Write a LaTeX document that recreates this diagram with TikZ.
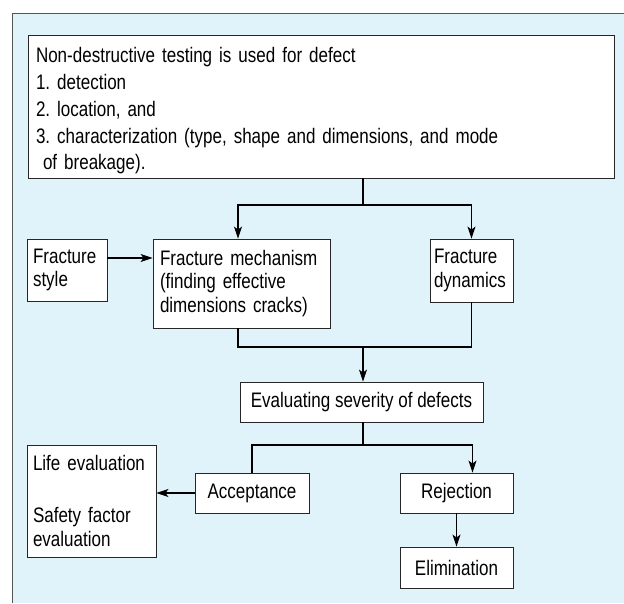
\documentclass[tikz,border=0pt]{standalone}
\usepackage{fontspec}
\setmainfont{Liberation Sans}[FakeStretch=0.81]
\usetikzlibrary{arrows.meta}
\definecolor{panelblue}{HTML}{E0F2FA}
\definecolor{framegray}{HTML}{555555}
\frenchspacing

\begin{document}
\begin{tikzpicture}[x=1pt, y=-1pt, font=\fontsize{21}{23.5}\selectfont]
\tikzstyle{vertexr}=[rectangle, draw=black!85, fill=white, line width=0.9pt, inner ysep=0pt, align=left]
\tikzstyle{vertexm}=[rectangle, draw=black!85, fill=white, line width=0.9pt, inner sep=0pt, align=center]
\tikzstyle{linestyle}=[line width=1.1pt]
\tikzstyle{drawstyle}=[line width=1.1pt, -{Stealth[length=12pt, width=8pt, inset=3pt]}]

\useasboundingbox (0,0) rectangle (624,603);
\fill[panelblue] (12,13) rectangle (624,603);
\draw[framegray, line width=1pt] (12,603) -- (12,13) -- (624,13);

\node[vertexr, minimum width=586, minimum height=143, inner xsep=8pt, text width=570pt,
  font=\fontsize{21}{26.7}\selectfont] (B0x0) at (321,106.5)
  {\rule{0pt}{24pt}Non-destructive testing is used for defect\\
   1. detection\\
   2. location, and\\
   3. characterization (type, shape and dimensions, and mode\\
   \hspace*{7pt}of breakage).};
\node[vertexr, minimum width=80, minimum height=62, inner xsep=6pt, text width=68pt] (B0x1) at (67,270) {Fracture\\style};
\node[vertexr, minimum width=177, minimum height=89, inner xsep=7pt, text width=163pt] (B1x1) at (241.5,283.5) {Fracture mechanism\\(finding effective\\dimensions cracks)};
\node[vertexr, minimum width=83, minimum height=63, inner xsep=4pt, text width=75pt] (B2x1) at (471.5,270.5) {Fracture\\dynamics};
\node[vertexm, minimum width=243, minimum height=40] (B1x2) at (361.5,402) {Evaluating severity of defects};
\node[vertexr, minimum width=129, minimum height=112, inner xsep=6pt, text width=117pt] (B0x3) at (91.5,501) {Life evaluation\\[28.5pt]Safety factor\\evaluation};
\node[vertexm, minimum width=114, minimum height=40] (B1x3) at (252,493) {Acceptance};
\node[vertexm, minimum width=113, minimum height=40] (B2x3) at (456.5,493) {Rejection};
\node[vertexm, minimum width=113, minimum height=41] (B2x4) at (456.5,567.5) {Elimination};

\coordinate (J0) at (363,205);
\coordinate (J1) at (363,347);
\coordinate (J2) at (363,445);

\draw[linestyle] (B0x0.south -| J0) -- (J0);
\draw[drawstyle] (J0) -| ([xshift=-3.5pt]B1x1.north);
\draw[drawstyle] (J0) -| (B2x1.north);
\draw[drawstyle] ([yshift=12pt]B0x1.east) -- ([yshift=12pt]B0x1.east -| B1x1.west);
\draw[linestyle] ([xshift=-3.5pt]B1x1.south) |- (B2x1.south |- J1) -- (B2x1.south);
\draw[drawstyle] (J1) -- (J1 |- B1x2.north);
\draw[linestyle] (B1x2.south -| J2) -- (J2);
\draw[linestyle] (J2) -| (B1x3.north);
\draw[drawstyle] (J2) -| ([xshift=16pt]B2x3.north);
\draw[drawstyle] (B1x3.west) -- (B1x3.west -| B0x3.east);
\draw[drawstyle] (B2x3.south) -- (B2x4.north);
\end{tikzpicture}
\end{document}
